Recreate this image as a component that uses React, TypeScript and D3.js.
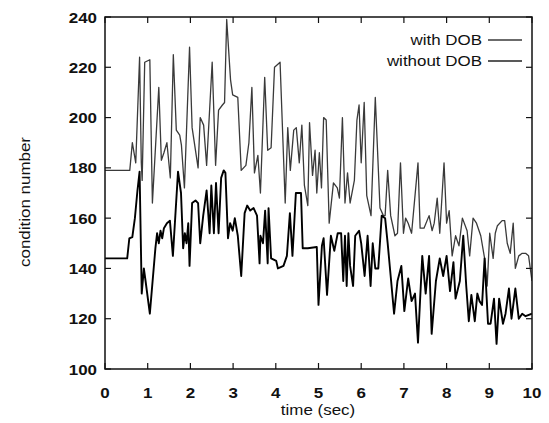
import React from 'react';
import * as d3 from 'd3';

// upper trace (thin grey) and lower trace (heavy black)
const timeWith = [
  0, 0.58, 0.64, 0.72, 0.81, 0.85, 0.87, 0.93, 1.05, 1.11, 1.26, 1.32, 1.38, 1.45, 1.53, 1.6, 1.67, 1.75, 1.79, 1.86,
  1.98, 2.04, 2.18, 2.23, 2.31, 2.38, 2.51, 2.59, 2.66, 2.75, 2.8, 2.85, 2.94, 2.99, 3.11, 3.19, 3.3, 3.37, 3.44, 3.5,
  3.58, 3.64, 3.74, 3.81, 3.89, 3.97, 4.1, 4.22, 4.28, 4.34, 4.42, 4.48, 4.55, 4.61, 4.67, 4.75, 4.79, 4.86, 4.92, 4.96,
  5.02, 5.07, 5.12, 5.18, 5.25, 5.35, 5.44, 5.49, 5.56, 5.62, 5.68, 5.74, 5.84, 5.9, 5.95, 6.0, 6.07, 6.13, 6.23, 6.33,
  6.44, 6.52, 6.56, 6.62, 6.69, 6.79, 6.85, 6.92, 6.99, 7.04, 7.1, 7.18, 7.33, 7.38, 7.47, 7.59, 7.66, 7.71, 7.78, 7.84,
  7.94, 8.0, 8.06, 8.13, 8.21, 8.29, 8.37, 8.48, 8.54, 8.62, 8.7, 8.8, 8.89, 8.95, 9.01, 9.09, 9.14, 9.19, 9.3, 9.36,
  9.42, 9.49, 9.56, 9.61, 9.69, 9.77, 9.85, 9.92, 10.0,
];
const condWith = [
  179, 179, 190, 182, 224, 182, 175, 222, 223, 166, 212, 183, 186, 190, 176, 225, 195, 193, 189, 172,
  228, 196, 180, 200, 197, 181, 222, 181, 203, 205, 206, 239, 215, 209, 208, 179, 181, 190, 212, 178,
  185, 170, 216, 187, 188, 220, 222, 166, 196, 179, 195, 196, 182, 197, 173, 165, 198, 177, 187, 170,
  186, 172, 200, 199, 158, 174, 172, 168, 200, 166, 178, 166, 175, 199, 205, 182, 206, 169, 161, 208,
  164, 161, 161, 179, 161, 153, 154, 182, 154, 160, 158, 154, 182, 156, 156, 161, 155, 158, 168, 154,
  182, 158, 163, 145, 153, 149, 160, 155, 145, 160, 158, 153, 144, 133, 154, 144, 154, 157, 159, 159,
  150, 146, 158, 140, 145, 146, 146, 145, 135,
];

const timeWithout = [
  0, 0.52, 0.57, 0.64, 0.7, 0.76, 0.81, 0.86, 0.91, 0.95, 1.05, 1.18, 1.22, 1.26, 1.3, 1.34, 1.38, 1.45, 1.52, 1.59,
  1.71, 1.78, 1.83, 1.87, 1.91, 1.95, 1.98, 2.04, 2.12, 2.18, 2.23, 2.3, 2.38, 2.45, 2.49, 2.55, 2.6, 2.66, 2.72, 2.78,
  2.82, 2.88, 2.93, 2.99, 3.04, 3.11, 3.19, 3.27, 3.33, 3.4, 3.48, 3.56, 3.62, 3.64, 3.7, 3.75, 3.81, 3.83, 3.89, 4.01,
  4.05, 4.18, 4.26, 4.33, 4.39, 4.47, 4.59, 4.63, 4.75, 4.96, 5.0, 5.08, 5.12, 5.2, 5.29, 5.37, 5.45, 5.53, 5.58, 5.62,
  5.66, 5.7, 5.74, 5.81, 5.86, 5.95, 6.0, 6.08, 6.15, 6.22, 6.27, 6.33, 6.4, 6.48, 6.56, 6.62, 6.69, 6.77, 6.85, 6.94,
  7.01, 7.1, 7.18, 7.26, 7.33, 7.43, 7.51, 7.59, 7.65, 7.75, 7.84, 7.92, 8.0, 8.08, 8.16, 8.21, 8.31, 8.39, 8.46, 8.52,
  8.58, 8.66, 8.72, 8.77, 8.83, 8.89, 8.97, 9.03, 9.11, 9.17, 9.23, 9.32, 9.38, 9.46, 9.52, 9.61, 9.69, 9.77, 9.85, 10.0,
];
const condWithout = [
  144, 144, 152, 152.5, 160, 171, 178.5, 130, 140, 135, 122, 148, 154, 150, 155, 152, 156, 158, 159, 145,
  178.5, 170, 148, 154, 150, 158, 141, 166, 167, 166, 150, 161, 171, 154, 173, 154, 174, 154, 176, 179,
  178, 152, 158, 155, 160, 153, 137, 162, 165, 163, 164, 161, 142, 153, 150, 163, 142, 164, 144, 143,
  140, 141, 145, 162, 145, 170, 170, 148, 148, 148.5, 125.5, 149, 152, 129.5, 153, 147, 154, 154, 135, 153,
  133, 154, 141, 133, 153, 155, 150, 137, 153, 133, 150, 140, 140, 161, 160, 150, 137, 122, 135, 141,
  123, 136, 127, 130, 110.5, 145, 130, 145, 114, 135, 144, 137, 145, 131, 142.5, 128, 135, 153, 133, 119,
  129.5, 119, 130, 127, 125.5, 144, 118, 118, 128, 110, 128, 118, 122, 132, 120, 132, 120, 122, 121, 122,
];

const xTicks = [0, 1, 2, 3, 4, 5, 6, 7, 8, 9, 10];
const yTicks = [100, 120, 140, 160, 180, 200, 220, 240];
const legendLabels = ['with DOB', 'without DOB'];

const FONT = '"Liberation Sans", Arial, Helvetica, sans-serif';
const SX = 1.13; // the scan is a little wider than Helvetica

const Txt = ({ x, y, anchor = 'start', rotate = 0, size = 15, weight = 'normal', children }: any) => (
  <text
    transform={`translate(${x},${y}) rotate(${rotate}) scale(${SX},1)`}
    textAnchor={anchor}
    fontFamily={FONT}
    fontSize={size}
    fontWeight={weight}
    fill="#111"
  >
    {children}
  </text>
);

const App = () => {
  const width = 549;
  const height = 423;
  const left = 105, right = 532, top = 17, bottom = 369;

  const x = d3.scaleLinear().domain([0, 10]).range([left, right]);
  const y = d3.scaleLinear().domain([100, 240]).range([bottom, top]);

  const line = d3.line<[number, number]>().x(d => x(d[0])).y(d => y(d[1]));
  const withPath = line(timeWith.map((t, i) => [t, condWith[i]]));
  const withoutPath = line(timeWithout.map((t, i) => [t, condWithout[i]]));

  const tk = 6;

  return (
    <svg width={width} height={height} style={{ position: 'absolute', left: 0, top: 0, background: '#fff' }}>
      <rect width={width} height={height} fill="#fff" />
      <defs>
        <clipPath id="plot">
          <rect x={left} y={top} width={right - left} height={bottom - top} />
        </clipPath>
      </defs>

      <g clipPath="url(#plot)">
        <path d={withPath || ''} fill="none" stroke="#3a3a3a" strokeWidth={1.3} strokeLinejoin="round" />
        <path d={withoutPath || ''} fill="none" stroke="#000" strokeWidth={1.9} strokeLinejoin="round" />
      </g>

      {/* frame with gnuplot style inward ticks on all sides */}
      <rect x={left} y={top} width={right - left} height={bottom - top} fill="none" stroke="#111" strokeWidth={1.5} />
      {xTicks.map(t => (
        <g key={'x' + t}>
          <line x1={x(t)} x2={x(t)} y1={bottom} y2={bottom - tk} stroke="#111" strokeWidth={1.2} />
          <line x1={x(t)} x2={x(t)} y1={top} y2={top + tk} stroke="#111" strokeWidth={1.2} />
          <Txt x={x(t)} y={398} anchor="middle" weight="bold">{t}</Txt>
        </g>
      ))}
      {yTicks.map(v => (
        <g key={'y' + v}>
          <line x1={left} x2={left + tk} y1={y(v)} y2={y(v)} stroke="#111" strokeWidth={1.2} />
          <line x1={right} x2={right - tk} y1={y(v)} y2={y(v)} stroke="#111" strokeWidth={1.2} />
          <Txt x={97} y={y(v) + 5.5} anchor="end" weight="bold">{v}</Txt>
        </g>
      ))}

      {/* legend */}
      {legendLabels.map((lab, i) => (
        <g key={lab}>
          <Txt x={482} y={45 + i * 21} anchor="end">{lab}</Txt>
          <line x1={488} x2={522} y1={40 + i * 21} y2={40 + i * 21} stroke={i === 0 ? '#3a3a3a' : '#222'} strokeWidth={1.3} />
        </g>
      ))}

      <Txt x={318} y={415} anchor="middle">time (sec)</Txt>
      <Txt x={30} y={202} anchor="middle" rotate={-90}>condition number</Txt>
    </svg>
  );
};

export default App;
